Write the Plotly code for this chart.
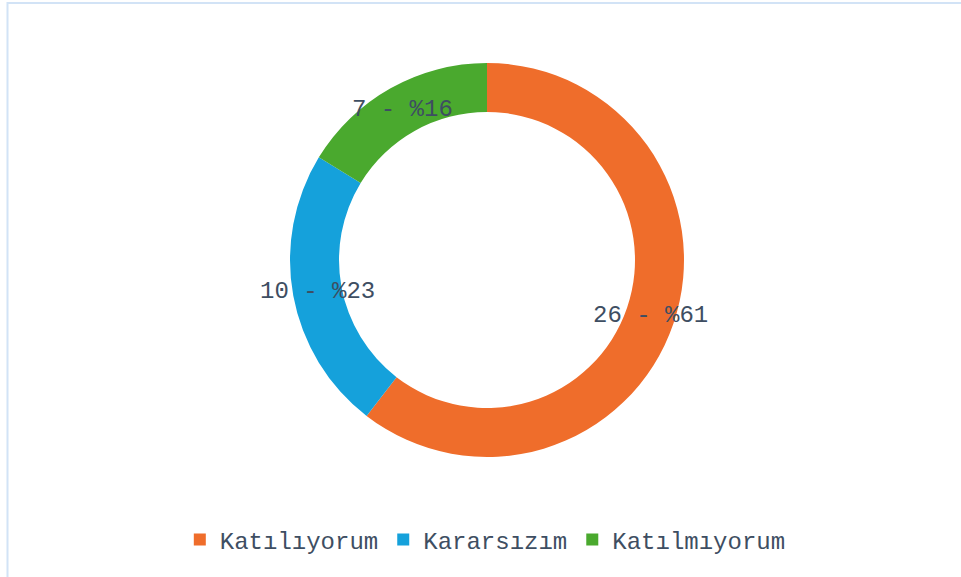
import math
import plotly.graph_objects as go

categories = ["Katılıyorum", "Kararsızım", "Katılmıyorum"]
counts = [26, 10, 7]
percent_labels = [61, 23, 16]
colors = ["#ef6d2b", "#15a1db", "#4aa92e"]

W, H = 961, 577
cx, cy = 487, 260
r_out, r_in = 197, 148
font_family = "Liberation Mono, Courier New, monospace"
text_color = "#3e4e62"

fig = go.Figure()
fig.add_trace(go.Pie(
    labels=categories,
    values=counts,
    hole=r_in / r_out,
    sort=False,
    direction="clockwise",
    rotation=0,
    marker=dict(colors=colors, line=dict(width=0)),
    textinfo="none",
    hoverinfo="label+value+percent",
    domain=dict(x=[(cx - r_out) / W, (cx + r_out) / W],
                y=[(H - (cy + r_out)) / H, (H - (cy - r_out)) / H]),
))

# labels at the ring centre line, positioned from the data
total = sum(counts)
cum = 0
r_mid = (r_out + r_in) / 2
annotations = []
for c, p in zip(counts, percent_labels):
    frac = (cum + c / 2) / total
    cum += c
    ang = 2 * math.pi * frac
    px = cx + r_mid * math.sin(ang)
    py = cy - r_mid * math.cos(ang)
    annotations.append(dict(
        x=px / W, y=(H - py) / H, xref="paper", yref="paper",
        text=f"{c} - %{p}", showarrow=False,
        xanchor="center", yanchor="middle",
        font=dict(family=font_family, size=24, color=text_color),
    ))

fig.update_layout(
    width=W, height=H,
    margin=dict(l=0, r=0, t=0, b=0),
    paper_bgcolor="white", plot_bgcolor="white",
    annotations=annotations,
    showlegend=True,
    legend=dict(orientation="h", x=0.505, xanchor="center",
                y=(H - 540) / H, yanchor="middle",
                font=dict(family=font_family, size=24, color=text_color),
                itemwidth=30, tracegroupgap=0),
    shapes=[
        dict(type="line", xref="paper", yref="paper",
             x0=7.5 / W, x1=7.5 / W, y0=0, y1=(H - 2) / H,
             line=dict(color="#d2e3f6", width=2)),
        dict(type="line", xref="paper", yref="paper",
             x0=7.5 / W, x1=1, y0=(H - 3) / H, y1=(H - 3) / H,
             line=dict(color="#d2e3f6", width=2)),
    ],
)

fig.write_html("out.html", config={"displayModeBar": False},
               post_script="document.body.style.margin='0';")
